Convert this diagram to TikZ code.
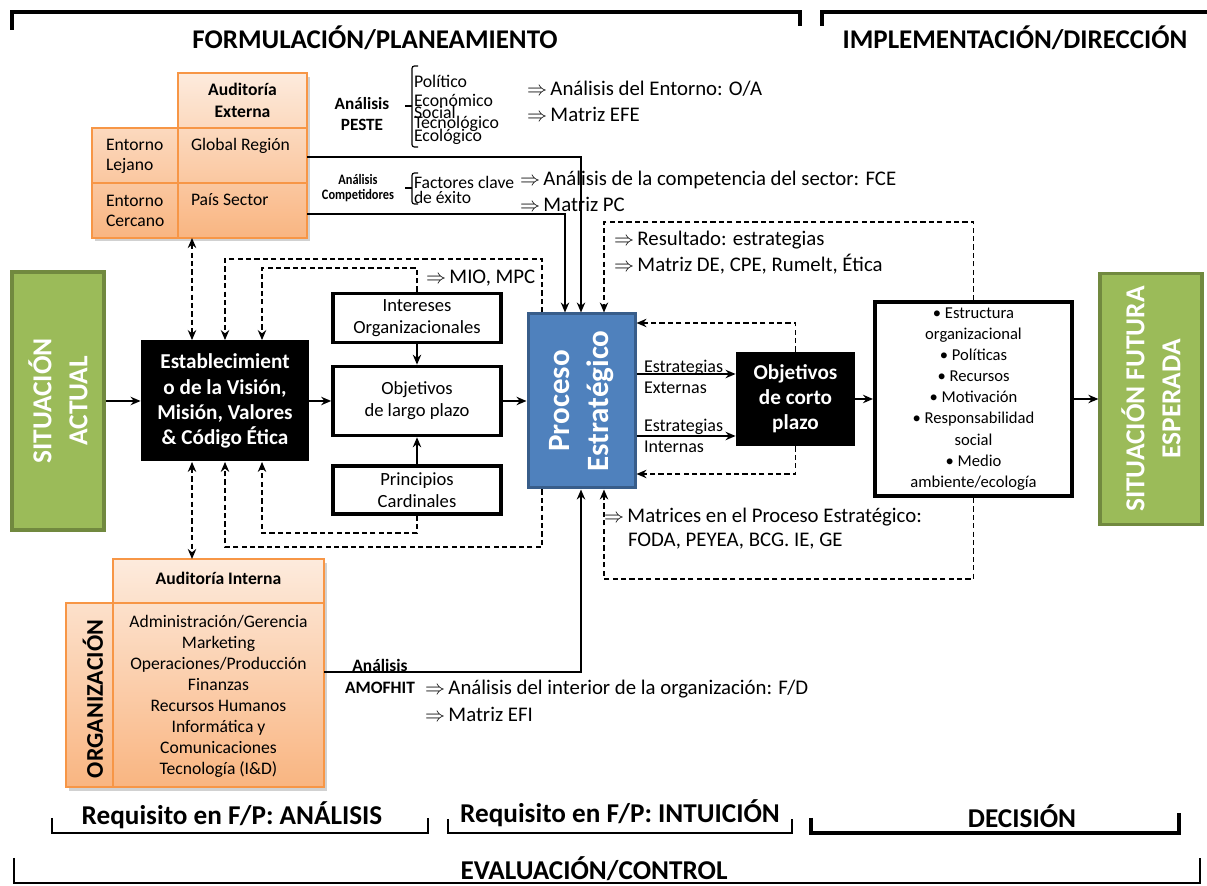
\documentclass[tikz,border=0pt]{standalone}
\usepackage{fontspec}
\setmainfont{Carlito}
\usetikzlibrary{arrows.meta}

\definecolor{greenFill}{HTML}{9BBB59}
\definecolor{greenLine}{HTML}{71893F}
\definecolor{blueFill}{HTML}{4F81BD}
\definecolor{blueLine}{HTML}{385D8A}
\definecolor{peachTop}{HTML}{FDEBDD}
\definecolor{peachBot}{HTML}{F9B581}
\definecolor{orangeLine}{HTML}{F79646}

\newcommand\fsz[2]{\fontsize{#1}{#2}\selectfont}
\newcommand\thenarrow{$\Rightarrow$\,}
\setlength{\lineskiplimit}{-20pt}

\tikzset{
  txt/.style={inner sep=0pt, outer sep=0pt},
  ann/.style={txt, anchor=west, font=\fsz{10.4}{12.5}},
  cell/.style={txt, align=left, font=\fsz{8.8}{10}},
  peste item/.style={txt, anchor=west, font=\fsz{8.9}{9}},
  greenbox/.style={draw=greenLine, fill=greenFill, line width=1.6pt, inner sep=0pt},
  greentext/.style={txt, rotate=90, align=center, text=white, font=\bfseries\fsz{13.7}{18}},
  blackbox/.style={fill=black, text=white, font=\bfseries\fsz{10.6}{12.6}, align=center, inner sep=0pt},
  whitebox/.style={draw=black, line width=1.8pt, fill=white, font=\fsz{9.3}{11}, align=center, inner sep=0pt},
  arr/.style={line width=1pt, -{Stealth[length=5pt,width=4.2pt]}},
  dasharr/.style={line width=0.8pt, dash pattern=on 2.6pt off 1.6pt, -{Stealth[length=5pt,width=4.2pt]}},
  dashboth/.style={line width=0.8pt, dash pattern=on 2.6pt off 1.6pt, {Stealth[length=5pt,width=4.2pt]}-{Stealth[length=5pt,width=4.2pt]}},
  bracket/.style={line width=1.8pt},
  thinbracket/.style={line width=1.3pt},
  grid/.style={draw=orangeLine, line width=0.9pt},
  bracebar/.style={line width=0.6pt, rounded corners=1.2pt},
  title/.style={txt, font=\bfseries\fsz{13.5}{16}},
  phase/.style={txt, font=\bfseries\fsz{13.6}{16}},
}

\begin{document}
\begin{tikzpicture}[x=0.5pt,y=-0.5pt]
\useasboundingbox (0,0) rectangle (1207,886);
\fill[white] (0,0) rectangle (1207,886);

% ---------- phase brackets, top ----------
\draw[bracket] (12,30) -- (12,12) -- (800,12) -- (800,26);
\draw[bracket] (822,26) -- (822,12) -- (1207,12);
\node[title] (tForm) at (375,38) {FORMULACIÓN/PLANEAMIENTO};
\node[title] (tImpl) at (1015,38) {IMPLEMENTACIÓN/DIRECCIÓN};

% ---------- external audit table ----------
\fill[black!18] (95,77) rectangle (310,241);
\shade[top color=peachTop, bottom color=peachBot] (92,73) rectangle (307,238);
\fill[white] (90,70) rectangle (178,128);
\draw[grid] (178,73) rectangle (307,238) (92,128) rectangle (307,238) (92,183) -- (307,183);
\node[txt, minimum width=107.5pt, minimum height=82.5pt] (ext) at (199.5,155.5) {};
\node[txt, align=center, font=\bfseries\fsz{8.8}{11.2}] (extHead) at (242.5,100.5) {Auditoría\\Externa};
\node[cell, anchor=west] (lejano) at (106,156) {Entorno\\Lejano};
\node[cell, anchor=west] (global) at (191,146) {Global Región};
\node[cell, anchor=west] (cercano) at (106,211) {Entorno\\Cercano};
\node[cell, anchor=west] (pais) at (191,200) {País Sector};

% ---------- PESTE analysis ----------
\node[txt, align=center, font=\bfseries\fsz{8.6}{10.5}] (peste) at (362,114.5) {Análisis\\PESTE};
\draw[bracebar] (418,66) -- (412,66) -- (412,147) -- (418,147);
\draw[line width=0.6pt] (405,106) -- (412,106);
\node[peste item] (pol) at (414,81) {Político};
\node[peste item] (eco) at (414,100) {Económico};
\node[peste item] (soc) at (414,112) {Social};
\node[peste item] (tec) at (414,124) {Tecnológico};
\node[peste item] (ecol) at (414,137) {Ecológico};
\node[ann] (entorno) at (527,89) {\thenarrow Análisis del Entorno: O/A};
\node[ann] (efe) at (527,114) {\thenarrow Matriz EFE};

% ---------- competitors analysis ----------
\node[txt, align=center, font=\bfseries\fsz{7.2}{7.5}] (comp) at (358,188.5) {\scalebox{0.86}[1]{Análisis}\\\scalebox{0.86}[1]{Competidores}};
\draw[bracebar] (418,173) -- (412,173) -- (412,204) -- (418,204);
\draw[line width=0.6pt] (405,188) -- (412,188);
\node[txt, anchor=west, align=left, font=\fsz{8.8}{7.5}] (fce) at (414,189.5) {Factores clave\\de éxito};
\node[ann] (fceRes) at (520,180) {\thenarrow Análisis de la competencia del sector: FCE};
\node[ann] (pc) at (520,204) {\thenarrow Matriz PC};

% ---------- main chain ----------
\node[greenbox, minimum width=46pt, minimum height=129pt] (sitA) at (58,401) {};
\node[greentext] (sitAtxt) at (sitA) {SITUACIÓN\\ACTUAL};
\node[blackbox, minimum width=84pt, minimum height=60.5pt] (est) at (225,401)
  {Establecimient\\o de la Visión,\\Misión, Valores\\\& Código Ética};
\node[whitebox, minimum width=84pt, minimum height=24.5pt] (Intereses) at (417,318) {Intereses\\Organizacionales};
\node[whitebox, minimum width=84pt, minimum height=34.5pt] (ObjLP) at (417,401) {Objetivos\\de largo plazo};
\node[whitebox, minimum width=84pt, minimum height=24pt] (Principios) at (417,490) {Principios\\Cardinales};
\node[draw=blueLine, fill=blueFill, line width=1.5pt, minimum width=53.5pt, minimum height=87pt, inner sep=0pt] (Proceso) at (581.5,401) {};
\node[txt, rotate=90, align=center, text=white, font=\bfseries\fsz{15.5}{19.5}] (procTxt) at (Proceso) {Proceso\\Estratégico};
\node[blackbox, minimum width=59.5pt, minimum height=47pt] (ObjCP) at (795.5,399) {Objetivos\\de corto\\plazo};
\node[whitebox, line width=2pt, minimum width=98.5pt, minimum height=97pt, font=\fsz{8.3}{10.55}] (Impl) at (973.5,399)
  {\textbullet~Estructura\\organizacional\\\textbullet~Políticas\\\textbullet~Recursos\\\textbullet~Motivación\\\textbullet~Responsabilidad\\social\\\textbullet~Medio\\ambiente/ecología};
\node[greenbox, minimum width=51pt, minimum height=125.5pt] (sitF) at (1151,399) {};
\node[greentext] (sitFtxt) at (sitF) {SITUACIÓN FUTURA\\ESPERADA};

% ---------- internal audit table ----------
\fill[black!18] (69,563) rectangle (327,791);
\shade[top color=peachTop, bottom color=peachBot] (66,559) rectangle (324,787);
\fill[white] (63,556) rectangle (113,603);
\draw[grid] (113,559) rectangle (324,787) (66,603) rectangle (324,787);
\node[txt, minimum width=129pt, minimum height=114pt] (intT) at (195,673) {};
\node[txt, font=\bfseries\fsz{8.8}{10}] (intHead) at (218.5,578) {Auditoría Interna};
\node[txt, rotate=90, font=\bfseries\fsz{12}{14}] (org) at (93,699) {ORGANIZACIÓN};
\node[txt, align=center, font=\fsz{8.8}{10.5}] (areas) at (218.5,696.5)
  {Administración/Gerencia\\Marketing\\Operaciones/Producción\\Finanzas\\Recursos Humanos\\Informática y\\Comunicaciones\\Tecnología (I\&D)};
\node[txt, align=center, font=\bfseries\fsz{8.7}{11}] (amo) at (380,676) {Análisis\\AMOFHIT};
\node[ann] (fd) at (425,689) {\thenarrow Análisis del interior de la organización: F/D};
\node[ann] (efi) at (425,714) {\thenarrow Matriz EFI};

% ---------- other annotations ----------
\node[ann] (mio) at (426,278) {\thenarrow MIO, MPC};
\node[ann] (res) at (614,240) {\thenarrow Resultado: estrategias};
\node[ann] (mde) at (614,264) {\thenarrow Matriz DE, CPE, Rumelt, Ética};
\node[ann] (mat1) at (604,517) {\thenarrow Matrices en el Proceso Estratégico:};
\node[ann] (mat2) at (628,541) {FODA, PEYEA, BCG. IE, GE};
\node[txt, anchor=west, align=left, font=\fsz{9}{10.5}] (lblExt) at (644,376.5) {Estrategias\\Externas};
\node[txt, anchor=west, align=left, font=\fsz{9}{10.5}] (lblInt) at (644,436) {Estrategias\\Internas};

% ---------- solid connectors ----------
\draw[arr] (sitA.east) -- (est.west);
\draw[arr] (est.east) -- (ObjLP.west);
\draw[arr] (ObjLP.east) -- (Proceso.west);
\draw[arr] (Intereses.south) -- (ObjLP.north);
\draw[arr] (Principios.north) -- (ObjLP.south);
\coordinate (yExt) at (0,374);
\coordinate (yInt) at (0,436);
\draw[arr] (Proceso.east |- yExt) -- (ObjCP.west |- yExt);
\draw[arr] (Proceso.east |- yInt) -- (ObjCP.west |- yInt);
\draw[arr] (ObjCP.east) -- (Impl.west);
\draw[arr] (Impl.east) -- (sitF.west);
\coordinate (pesteTurn) at (581,157);
\draw[arr] (ext.east |- pesteTurn) -- (pesteTurn) -- (Proceso.north -| pesteTurn);
\coordinate (compTurn) at (565,214);
\draw[arr] (ext.east |- compTurn) -- (compTurn) -- (Proceso.north -| compTurn);
\coordinate (amoTurn) at (581,672);
\draw[arr] (intT.east |- amoTurn) -- (amoTurn) -- (Proceso.south -| amoTurn);

% ---------- dashed feedback connectors ----------
\coordinate (xA) at (192,0);
\draw[dashboth] (ext.south -| xA) -- (est.north -| xA);
\draw[dashboth] (est.south -| xA) -- (intT.north -| xA);
\coordinate (loopTL) at (225,259);
\coordinate (loopTR) at (542,259);
\draw[dasharr] (Proceso.north -| loopTR) -- (loopTR) -- (loopTL) -- (est.north -| loopTL);
\coordinate (loopBL) at (225,547);
\coordinate (loopBR) at (542,547);
\draw[dasharr] (Proceso.south -| loopBR) -- (loopBR) -- (loopBL) -- (est.south -| loopBL);
\coordinate (innerT) at (262,268);
\draw[dasharr] (Intereses.north) -- (Intereses.north |- innerT) -- (innerT) -- (est.north -| innerT);
\coordinate (innerB) at (262,533);
\draw[dasharr] (Principios.south) -- (Principios.south |- innerB) -- (innerB) -- (est.south -| innerB);
\coordinate (feedT) at (604,222);
\draw[dasharr] (Impl.north) -- (Impl.north |- feedT) -- (feedT) -- (Proceso.north -| feedT);
\coordinate (feedB) at (604,579);
\draw[dasharr] (Impl.south) -- (Impl.south |- feedB) -- (feedB) -- (Proceso.south -| feedB);
\coordinate (shortT) at (0,323);
\draw[dasharr] (ObjCP.north) -- (ObjCP.north |- shortT) -- (Proceso.east |- shortT);
\coordinate (shortB) at (0,474);
\draw[dasharr] (ObjCP.south) -- (ObjCP.south |- shortB) -- (Proceso.east |- shortB);

% ---------- phase brackets, bottom ----------
\draw[thinbracket] (52,818) -- (52,833) -- (428,833) -- (428,818);
\node[phase] (reqA) at (232,815) {Requisito en F/P: ANÁLISIS};
\draw[thinbracket] (448,819) -- (448,833) -- (792,833) -- (792,819);
\node[phase] (reqI) at (620,813) {Requisito en F/P: INTUICIÓN};
\draw[bracket] (811,818) -- (811,833) -- (1179,833) -- (1179,813);
\node[phase] (dec) at (1022,816) {DECISIÓN};
\draw[thinbracket] (14,858) -- (14,883) -- (1200,883) -- (1200,858);
\node[phase] (evalc) at (594,869) {EVALUACIÓN/CONTROL};
\end{tikzpicture}
\end{document}
